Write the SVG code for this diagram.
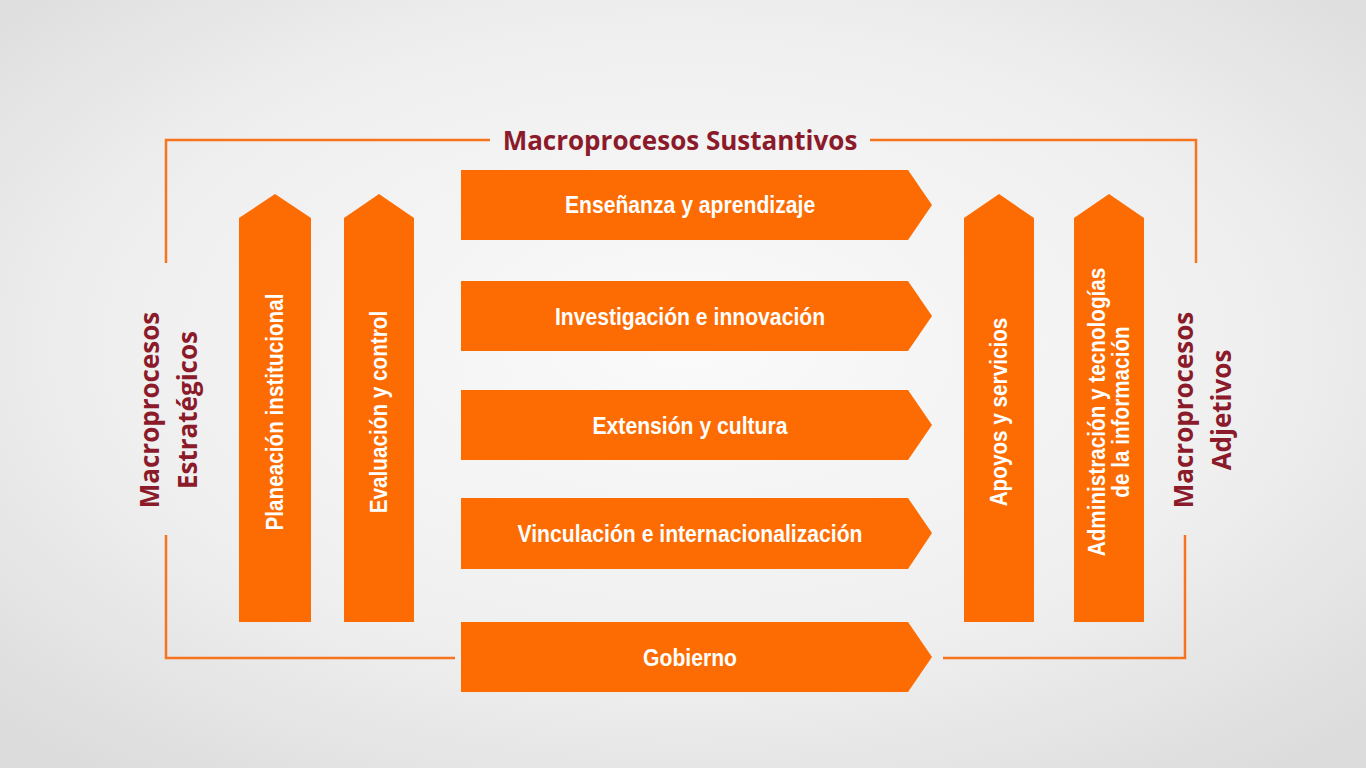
<svg xmlns="http://www.w3.org/2000/svg" width="1366" height="768" viewBox="0 0 1366 768">
<defs>
<radialGradient id="bg" cx="0.5" cy="0.45" r="0.7">
<stop offset="0" stop-color="#fafafa"/><stop offset="0.6" stop-color="#efefef"/><stop offset="1" stop-color="#dcdcdc"/>
</radialGradient>
</defs>
<style>
.sh{fill:#fd6c02}
.ln{fill:none;stroke:#f7731e;stroke-width:2.5}
.t{font-family:"Liberation Sans Narrow","Liberation Sans",Arial,sans-serif;font-weight:bold;font-size:23px;fill:#fff;text-anchor:middle;dominant-baseline:central}
.h{font-family:"Open Sans","Liberation Sans",sans-serif;font-weight:bold;font-size:26px;fill:#8b1a2a;text-anchor:middle;dominant-baseline:central}
</style>
<rect width="1366" height="768" fill="url(#bg)"/>
<g id="connectors">
<path class="ln" d="M490 140H166V263M870 140H1196V263M166 535V658H455M943 658H1185V535"/>
</g>
<text class="h" x="680" y="140">Macroprocesos Sustantivos</text>
<g id="estrategicos"><text class="h" transform="translate(168,410) rotate(-90)"><tspan x="0" dy="-19">Macroprocesos</tspan><tspan x="0" dy="38">Estratégicos</tspan></text></g>
<g id="adjetivos"><text class="h" transform="translate(1202,410) rotate(-90)"><tspan x="0" dy="-19">Macroprocesos</tspan><tspan x="0" dy="38">Adjetivos</tspan></text></g>
<g id="planeacion"><path class="sh" d="M239 218L275 194L311 218V622H239Z"/><text class="t" transform="translate(275,412) rotate(-90) scale(0.9,1)">Planeación institucional</text></g>
<g id="evaluacion"><path class="sh" d="M344 218L379 194L414 218V622H344Z"/><text class="t" transform="translate(379,412) rotate(-90) scale(0.9,1)">Evaluación y control</text></g>
<g id="apoyos"><path class="sh" d="M964 218L999 194L1034 218V622H964Z"/><text class="t" transform="translate(999,412) rotate(-90) scale(0.9,1)">Apoyos y servicios</text></g>
<g id="administracion"><path class="sh" d="M1074 218L1109 194L1144 218V622H1074Z"/><text class="t" transform="translate(1109,412) rotate(-90) scale(0.9,1)"><tspan x="0" dy="-12">Administración y tecnologías</tspan><tspan x="0" dy="24">de la información</tspan></text></g>
<g id="ensenanza"><path class="sh" d="M461 170H908L932 205L908 240H461Z"/><text class="t" transform="translate(690,205) scale(0.92,1)">Enseñanza y aprendizaje</text></g>
<g id="investigacion"><path class="sh" d="M461 281H908L932 316L908 351H461Z"/><text class="t" transform="translate(690,317) scale(0.92,1)">Investigación e innovación</text></g>
<g id="extension"><path class="sh" d="M461 390H908L932 425L908 460H461Z"/><text class="t" transform="translate(690,426) scale(0.92,1)">Extensión y cultura</text></g>
<g id="vinculacion"><path class="sh" d="M461 498H908L932 533L908 569H461Z"/><text class="t" transform="translate(690,534) scale(0.92,1)">Vinculación e internacionalización</text></g>
<g id="gobierno"><path class="sh" d="M461 622H908L932 657L908 692H461Z"/><text class="t" transform="translate(690,658) scale(0.92,1)">Gobierno</text></g>
</svg>
